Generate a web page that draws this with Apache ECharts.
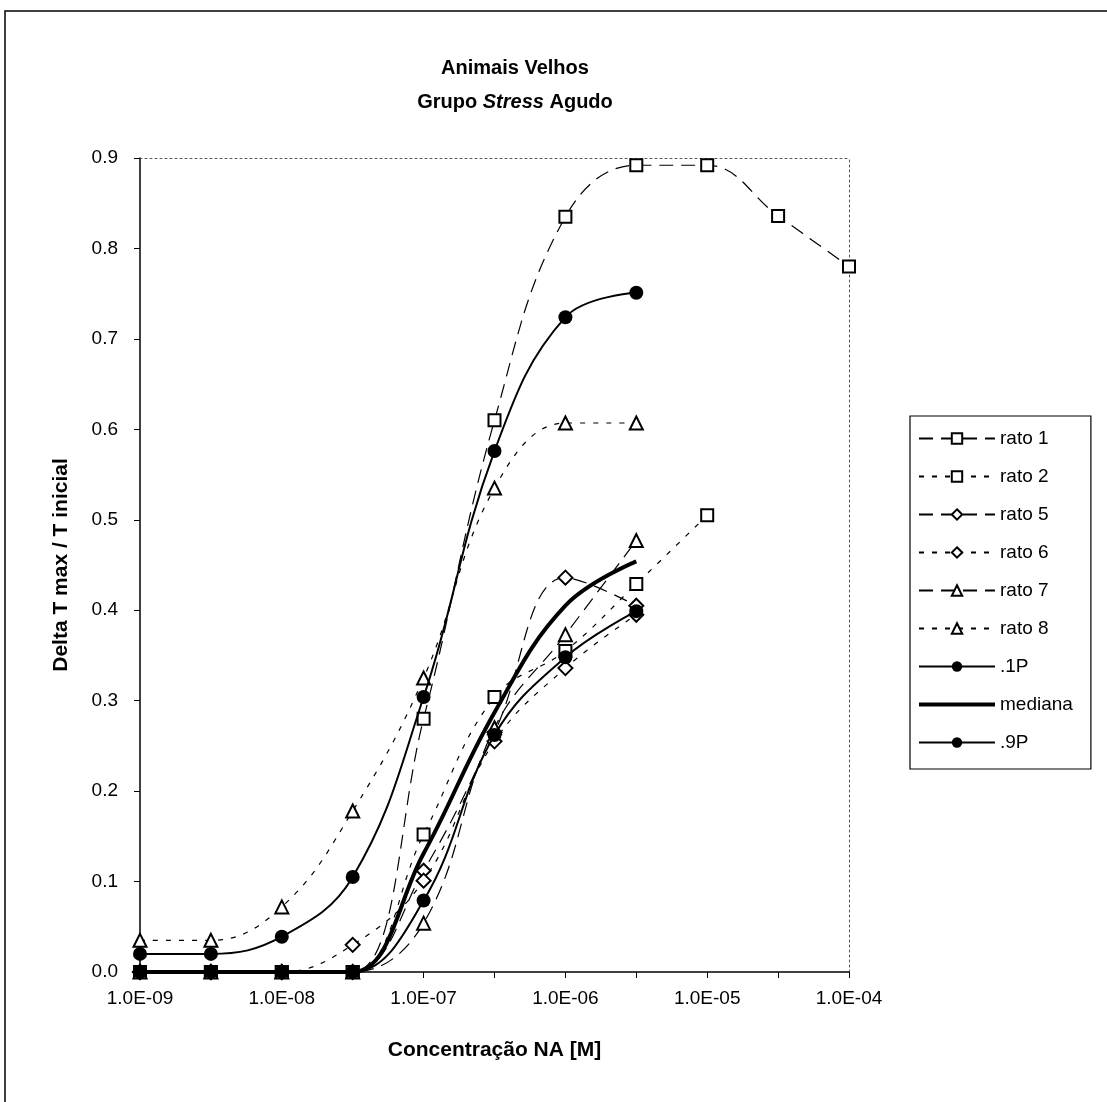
<!DOCTYPE html>
<html>
<head>
<meta charset="utf-8">
<script src="https://cdn.jsdelivr.net/npm/echarts@6/dist/echarts.min.js"></script>
<style>
html,body{margin:0;padding:0;background:#fff;}
#chart{width:1107px;height:1102px;}
</style>
</head>
<body>
<div id="chart"></div>
<script>
// Categories (concentrations) and tick labels
const categories = ['1.0E-09','3.0E-09','1.0E-08','3.0E-08','1.0E-07','3.0E-07','1.0E-06','3.0E-06','1.0E-05','3.0E-05','1.0E-04'];
const yTicks = [0,0.1,0.2,0.3,0.4,0.5,0.6,0.7,0.8,0.9];

// Series values
const rato1   = [0,0,0,0,0.28,0.61,0.835,0.892,0.892,0.836,0.78];
const rato2   = [0,0,0,0,0.152,0.304,0.355,0.429,0.505,null,null];
const rato5   = [0,0,0,0,0.112,0.265,0.436,0.405];
const rato6   = [0,0,0,0.03,0.101,0.255,0.336,0.395];
const rato7   = [0,0,0,0,0.054,0.27,0.373,0.477];
const rato8   = [0.035,0.035,0.072,0.178,0.325,0.535,0.607,0.607];
const p10     = [0,0,0,0,0.079,0.262,0.348,0.399];
const mediana = [0,0,0,0,0.131,0.287,0.405,0.454];
const p90     = [0.02,0.02,0.039,0.105,0.304,0.576,0.724,0.751];

const FONT = 'Liberation Sans, Arial, sans-serif';
const LONG = [14, 8];
const SHORT = [5, 8];

function rato(name, data, symbol, dash, size) {
  return {
    name, type: 'line', data, smooth: 0.4, symbol, symbolSize: size,
    lineStyle: {color: '#000', width: 1.2, type: dash},
    itemStyle: {color: '#fff', borderColor: '#000', borderWidth: 2},
    connectNulls: false, z: 3
  };
}

const chart = echarts.init(document.getElementById('chart'), null, {renderer: 'canvas'});
chart.setOption({
  animation: false,
  backgroundColor: '#fff',
  textStyle: {fontFamily: FONT},
  graphic: [
    {type: 'rect', shape: {x: 5, y: 11, width: 1120, height: 1120}, style: {fill: 'none', stroke: '#000', lineWidth: 1.5}, silent: true},
    {type: 'text', x: 515, y: 51, style: {
      text: '{b|Animais Velhos}\n{b|Grupo }{i|Stress}{b| Agudo}',
      align: 'center', verticalAlign: 'top', fontFamily: FONT,
      rich: {
        b: {fontFamily: FONT, fontSize: 20, fontWeight: 'bold', lineHeight: 34, fill: '#000'},
        i: {fontFamily: FONT, fontSize: 20, fontWeight: 'bold', fontStyle: 'italic', lineHeight: 34, fill: '#000'}
      }
    }}
  ],
  grid: {left: 140, right: 258, top: 158, bottom: 130, containLabel: false},
  legend: {
    orient: 'vertical', left: 910, top: 416,
    padding: [13, 18, 17, 7],
    itemGap: 19, itemWidth: 76, itemHeight: 13,
    backgroundColor: '#fff', borderColor: '#000', borderWidth: 1.2,
    textStyle: {fontFamily: FONT, fontSize: 19, color: '#000'},
    data: ['rato 1','rato 2','rato 5','rato 6','rato 7','rato 8','.1P',
      {name: 'mediana', itemStyle: {opacity: 0}, lineStyle: {width: 4}},
      '.9P']
  },
  xAxis: [{
    type: 'category', data: categories, boundaryGap: false,
    name: 'Concentração NA [M]', nameLocation: 'middle', nameGap: 68,
    nameTextStyle: {fontFamily: FONT, fontSize: 21, fontWeight: 'bold', color: '#000'},
    axisLine: {lineStyle: {color: '#000', width: 1.5}},
    axisTick: {show: true, interval: 0, length: 6, lineStyle: {color: '#000'}},
    axisLabel: {interval: 1, margin: 17, fontFamily: FONT, fontSize: 19, color: '#000'},
    splitLine: {show: false}
  }, {
    type: 'category', data: categories, boundaryGap: false, position: 'top',
    axisLine: {show: true, onZero: false, lineStyle: {color: '#555', width: 1, type: [2, 3]}},
    axisTick: {show: false}, axisLabel: {show: false}, splitLine: {show: false}
  }],
  yAxis: [{
    type: 'value', min: 0, max: 0.9, interval: 0.1,
    name: 'Delta T max / T inicial', nameLocation: 'middle', nameGap: 68,
    nameTextStyle: {fontFamily: FONT, fontSize: 21, fontWeight: 'bold', color: '#000'},
    axisLine: {show: true, lineStyle: {color: '#000', width: 1.5}},
    axisTick: {show: true, length: 6, lineStyle: {color: '#000'}},
    axisLabel: {margin: 22, fontFamily: FONT, fontSize: 19, color: '#000',
      formatter: v => yTicks.indexOf(Math.round(v*10)/10) >= 0 ? v.toFixed(1) : ''},
    splitLine: {show: false}
  }, {
    type: 'value', min: 0, max: 0.9, interval: 0.1, position: 'right',
    axisLine: {show: true, onZero: false, lineStyle: {color: '#555', width: 1, type: [2, 3]}},
    axisTick: {show: false}, axisLabel: {show: false}, splitLine: {show: false}
  }],
  series: [
    rato('rato 1', rato1, 'rect', LONG, 12),
    rato('rato 2', rato2, 'rect', SHORT, 12),
    rato('rato 5', rato5, 'diamond', LONG, 14),
    rato('rato 6', rato6, 'diamond', SHORT, 14),
    rato('rato 7', rato7, 'triangle', LONG, 13),
    rato('rato 8', rato8, 'triangle', SHORT, 13),
    {name: '.1P', type: 'line', data: p10, smooth: 0.4, symbol: 'circle', symbolSize: 14,
      lineStyle: {color: '#000', width: 2}, itemStyle: {color: '#000'}, z: 4},
    {name: 'mediana', type: 'line', data: mediana, smooth: 0.4, symbol: 'none',
      lineStyle: {color: '#000', width: 4}, itemStyle: {color: '#000'}, z: 4},
    {name: '.9P', type: 'line', data: p90, smooth: 0.4, symbol: 'circle', symbolSize: 14,
      lineStyle: {color: '#000', width: 2}, itemStyle: {color: '#000'}, z: 4}
  ]
});
</script>
</body>
</html>
